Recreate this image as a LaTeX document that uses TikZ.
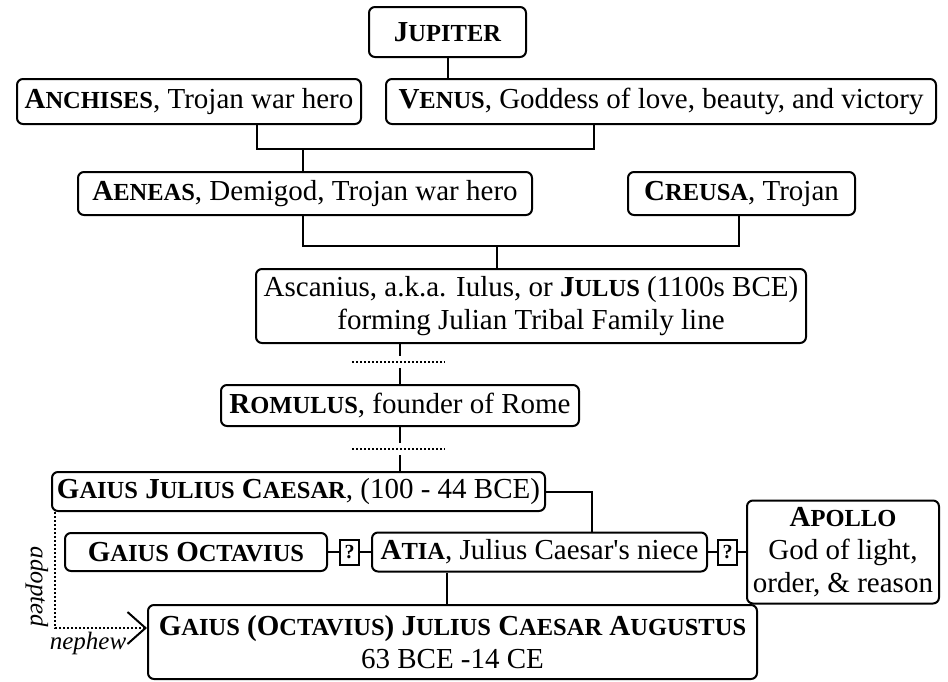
\documentclass[tikz,border=0pt]{standalone}
\usepackage{fontspec}
\setmainfont{Liberation Serif}[Ligatures=TeXOff]
\usetikzlibrary{arrows.meta}
\newcommand{\nm}[2]{{\bfseries#1{\fontsize{24.5}{33}\selectfont\MakeUppercase{#2}}}}

\begin{document}
\begin{tikzpicture}[x=1pt, y=-1pt,
  person/.style={draw, line width=2pt, rounded corners=6pt, inner sep=0pt,
    align=center, font=\fontsize{29}{33}\selectfont},
  qbox/.style={draw, line width=2pt, inner sep=0pt, minimum width=19pt,
    minimum height=25pt, font=\bfseries\fontsize{20}{20}\selectfont},
  link/.style={line width=2pt},
  dots/.style={line width=2.2pt, dash pattern=on 2pt off 2pt},
  note/.style={font=\itshape\fontsize{25}{28}\selectfont, inner sep=1pt}]

  \useasboundingbox (0,0) rectangle (948,681);

  \node[person, minimum width=157pt, minimum height=50pt] (jupiter) at (447.5,32) {\nm{J}{upiter}};
  \node[person, minimum width=344pt, minimum height=45pt] (anchises) at (189,101.5) {\nm{A}{nchises}, Trojan war hero};
  \node[person, minimum width=550pt, minimum height=45pt] (venus) at (661,101.5) {\nm{V}{enus}, Goddess of love, beauty, and victory};

  \node[person, minimum width=454pt, minimum height=43pt] (aeneas) at (305,193.5) {\nm{A}{eneas}, Demigod, Trojan war hero};
  \node[person, minimum width=227pt, minimum height=43pt] (creusa) at (741.5,193.5) {\nm{C}{reusa}, Trojan};

  \node[person, minimum width=550pt, minimum height=74pt] (ascanius) at (531,306) {Ascanius, a.k.a. Iulus, or \nm{J}{ulus} (1100s BCE)\\forming Julian Tribal Family line};
  \node[person, minimum width=358pt, minimum height=41pt] (romulus) at (400,405.5) {\nm{R}{omulus}, founder of Rome};

  \node[person, minimum width=493pt, minimum height=39pt] (gjc) at (298.5,491.5) {\nm{G}{aius} \nm{J}{ulius} \nm{C}{aesar}, (100 - 44 BCE)};
  \node[person, minimum width=262pt, minimum height=38pt] (gaiusoct) at (196,552) {\nm{G}{aius} \nm{O}{ctavius}};
  \node[qbox] (q1) at (349.5,552) {?};
  \node[person, minimum width=335pt, minimum height=39pt] (atia) at (539.5,552) {\nm{A}{tia}, Julius Caesar's niece};
  \node[qbox] (q2) at (727.5,552) {?};
  \node[person, minimum width=192pt, minimum height=103pt] (apollo) at (843,552) {\nm{A}{pollo}\\God of light,\\order, \& reason};
  \node[person, minimum width=609pt, minimum height=74pt] (augustus) at (452.5,642) {\nm{G}{aius} {\bfseries(}\nm{O}{ctavius}{\bfseries)} \nm{J}{ulius} \nm{C}{aesar} \nm{A}{ugustus}\\63 BCE -14 CE};

  \coordinate (ac) at (257,149);
  \coordinate (vc) at (594,149);
  \coordinate (aetop) at (303,149);
  \coordinate (ae1) at (303,246);
  \coordinate (cr1) at (739,246);
  \coordinate (as1) at (497,246);
  \coordinate (d1l) at (352,362);
  \coordinate (d1r) at (445,362);
  \coordinate (d2l) at (352,449);
  \coordinate (d2r) at (445,449);
  \coordinate (gj1) at (592,492);
  \coordinate (at1) at (447,600);
  \coordinate (adopt) at (55,628);

  \draw[link] (jupiter.south) -- (jupiter.south |- venus.north);
  \draw[link] (ac |- anchises.south) -- (ac) -- (vc) -- (vc |- venus.south);
  \draw[link] (aetop) -- (aetop |- aeneas.north);
  \draw[link] (ae1 |- aeneas.south) -- (ae1) -- (cr1) -- (cr1 |- creusa.south);
  \draw[link] (as1) -- (as1 |- ascanius.north);

  \draw[dots] (d1l) -- (d1r);
  \draw[link] (ascanius.south -| romulus.north) -- ++(0,12);
  \draw[link] (romulus.north) -- ++(0,-16);
  \draw[dots] (d2l) -- (d2r);
  \draw[link] (romulus.south) -- ++(0,16);
  \draw[link] (gjc.north -| romulus.south) -- ++(0,-16);

  \draw[link] (gjc.east) -- (gj1 |- gjc.east) -- (gj1 |- atia.north);
  \draw[link] (gaiusoct.east) -- (q1.west) (q1.east) -- (atia.west);
  \draw[link] (atia.east) -- (q2.west) (q2.east) -- (apollo.west);
  \draw[link] (at1 |- atia.south) -- (at1 |- augustus.north);

  \draw[dots, line width=2pt, -{Straight Barb[length=18pt, width=32pt]}]
    (gjc.south west -| adopt) -- (adopt) -- (adopt -| augustus.west);
  \node[note, rotate=-90] (adopted) at (37,587) {adopted};
  \node[note] (nephew) at (88,643) {nephew};

\end{tikzpicture}
\end{document}
